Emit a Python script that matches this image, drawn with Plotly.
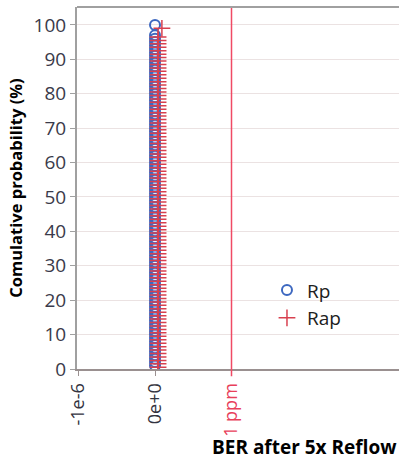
import plotly.graph_objects as go

# ---- data ----
rp_prob = [1, 2, 3, 4, 5, 6, 7, 8, 9, 10, 11, 12, 13, 14, 15, 16, 17, 18, 19, 20,
           21, 22, 23, 24, 25, 26, 27, 28, 29, 30, 31, 32, 33, 34, 35, 36, 37, 38, 39, 40,
           41, 42, 43, 44, 45, 46, 47, 48, 49, 50, 51, 52, 53, 54, 55, 56, 57, 58, 59, 60,
           61, 62, 63, 64, 65, 66, 67, 68, 69, 70, 71, 72, 73, 74, 75, 76, 77, 78, 79, 80,
           81, 82, 83, 84, 85, 86, 87, 88, 89, 90, 91, 92, 93, 94, 95, 96, 97, 100]
rp_ber = [0.0] * len(rp_prob)

rap_prob = [0.5, 1.5, 2.5, 3.5, 4.5, 5.5, 6.5, 7.5, 8.5, 9.5, 10.5, 11.5, 12.5, 13.5, 14.5,
            15.5, 16.5, 17.5, 18.5, 19.5, 20.5, 21.5, 22.5, 23.5, 24.5, 25.5, 26.5, 27.5,
            28.5, 29.5, 30.5, 31.5, 32.5, 33.5, 34.5, 35.5, 36.5, 37.5, 38.5, 39.5, 40.5,
            41.5, 42.5, 43.5, 44.5, 45.5, 46.5, 47.5, 48.5, 49.5, 50.5, 51.5, 52.5, 53.5,
            54.5, 55.5, 56.5, 57.5, 58.5, 59.5, 60.5, 61.5, 62.5, 63.5, 64.5, 65.5, 66.5,
            67.5, 68.5, 69.5, 70.5, 71.5, 72.5, 73.5, 74.5, 75.5, 76.5, 77.5, 78.5, 79.5,
            80.5, 81.5, 82.5, 83.5, 84.5, 85.5, 86.5, 87.5, 88.5, 89.5, 90.5, 91.5, 92.5,
            93.5, 94.5, 95.5, 96.5, 99]
rap_ber = [0.04e-6] * (len(rap_prob) - 1) + [0.09e-6]

spec_limit = 1e-6
x_tickvals = [-1e-6, 0, 1e-6]
x_ticktext = ["-1e-6", "0e+0", "<span style='color:#e8405a'>1 ppm</span>"]
y_tickvals = [0, 10, 20, 30, 40, 50, 60, 70, 80, 90, 100]

blue = "#3d68c0"
red = "#d8404f"

fig = go.Figure()
fig.add_trace(go.Scatter(
    x=rp_ber, y=rp_prob, mode="markers", name="Rp",
    marker=dict(symbol="circle-open", size=10, color=blue, line=dict(width=2, color=blue)),
))
fig.add_trace(go.Scatter(
    x=rap_ber, y=rap_prob, mode="markers", name="Rap",
    marker=dict(symbol="cross-thin-open", size=12, color=red, line=dict(width=1.5, color=red)),
))

fig.add_shape(type="line", xref="x", yref="paper", x0=spec_limit, x1=spec_limit,
              y0=-0.02, y1=1, line=dict(color="#f04a64", width=1.5), layer="above")
# top frame line
fig.add_shape(type="line", xref="paper", yref="paper", x0=0, x1=1, y0=1, y1=1,
              line=dict(color="#a0a0a0", width=2))

fig.add_annotation(text="<b>BER after 5x Reflow</b>", xref="paper", yref="paper",
                   x=1.0, y=-0.215, xanchor="right", yanchor="middle", showarrow=False,
                   font=dict(size=19, color="black", family="Open Sans"))

fig.update_layout(
    width=399, height=461,
    margin=dict(l=77, r=0, t=7, b=92),
    paper_bgcolor="white", plot_bgcolor="white",
    font=dict(family="Open Sans", color="#333340"),
    showlegend=True,
    legend=dict(x=0.59, y=0.27, xanchor="left", yanchor="top",
                font=dict(size=19, color="#202020"), bgcolor="rgba(0,0,0,0)",
                itemwidth=30, tracegroupgap=0, traceorder="normal"),
)
fig.update_xaxes(
    range=[-1.02e-6, 3.19e-6],
    tickvals=x_tickvals, ticktext=x_ticktext, tickangle=-90,
    tickfont=dict(size=18, color="#333340"),
    showgrid=False, zeroline=False,
    showline=True, linecolor="#9a9090", linewidth=2,
    ticks="outside", ticklen=5, tickcolor="#9a9090",
)
fig.update_yaxes(
    range=[0, 105.2],
    tickvals=y_tickvals, tickfont=dict(size=19, color="#3a3a4a"),
    showgrid=True, gridcolor="#ebe2e2", gridwidth=1, zeroline=False,
    showline=True, linecolor="#a0a0a0", linewidth=2,
    ticks="outside", ticklen=5, tickcolor="#a0a0a0",
    title=dict(text="<b>Comulative probability (%)</b>", font=dict(size=16.5, color="black"), standoff=7),
)

fig.write_html("out.html")
